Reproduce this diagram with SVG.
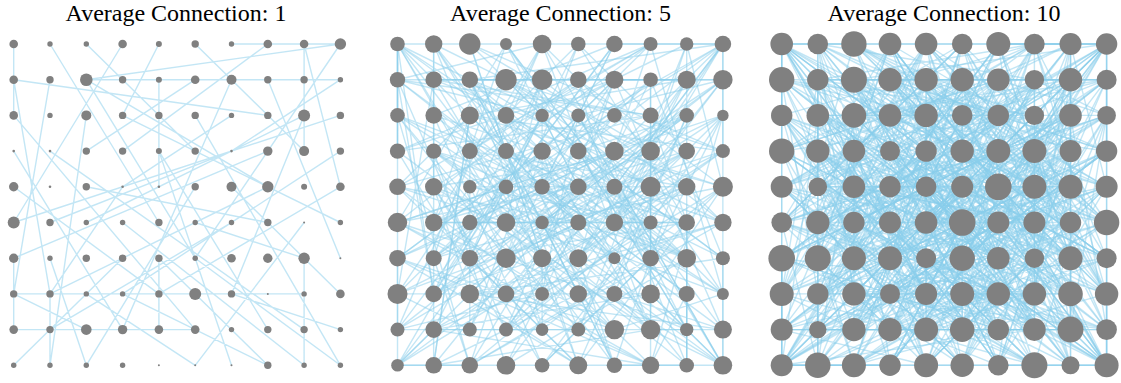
<svg xmlns="http://www.w3.org/2000/svg" xmlns:xlink="http://www.w3.org/1999/xlink" width="1121" height="383" viewBox="0 0 1121 383">
<style>
.t{font-family:"Liberation Serif","Times New Roman",serif;font-size:24px;fill:#000;text-anchor:middle}
.e{fill:none;stroke:#87CEEB;stroke-width:1.4;stroke-opacity:0.5}
.n circle{fill:#808080}
</style>
<defs>
<path id="eA" vector-effect="non-scaling-stroke" d="M0 0L0 2M6 0L9 0M9 0L2 1M2 1L9 1M2 1L7 4M2 1L5 6M3 0L0 5M1 0L4 5M5 0L8 3M9 0L5 6M7 0L3 3M0 1L7 2M0 1L1 7M8 0L9 4M8 0L8 3M4 1L4 4M1 1L0 7M6 1L3 8M7 1L9 6M3 2L9 5M8 2L6 7M8 2L2 5M2 2L1 9M5 2L9 9M0 2L5 8M1 3L8 8M7 3L0 6M4 3L6 9M9 3L3 7M2 4L7 5M0 4L4 7M6 4L9 7M5 4L2 9M7 4L1 7M0 5L9 2M3 5L8 9M1 5L6 3M5 5L8 6M8 6L8 9M4 6L7 9M0 7L2 8M1 7L3 4M2 7L5 9M6 7L9 8M0 8L5 8M1 8L6 5M4 8L4 6M5 7L8 7M0 8L0 6M0 9L3 6M1 9L1 7M7 9L3 7M9 9L5 6M8 9L8 7M2 9L1 6M0 7L7 7M4 7L9 4M3 8L0 3M9 1L6 3M5 1L2 3M4 0L3 2M2 0L5 3M7 8L4 3M6 2L3 4M8 5L5 9"/>
<path id="eB" vector-effect="non-scaling-stroke" d="M0 0L3 4M1 0L5 2M2 0L7 3M3 0L9 8M4 0L1 5M5 0L2 8M6 0L4 4M7 0L0 3M8 0L6 5M9 0L9 3M0 1L4 2M1 1L8 1M2 1L6 9M3 1L0 8M4 1L9 5M5 1L7 6M6 1L1 4M7 1L3 5M8 1L2 7M9 1L5 4M0 2L8 6M1 2L4 9M2 2L9 4M3 2L6 6M4 2L0 9M5 2L8 8M6 2L2 6M7 2L1 1M8 2L4 5M9 2L7 9M0 3L6 1M1 3L3 9M2 3L8 4M3 3L5 7M4 3L1 2M5 3L9 6M6 3L0 5M7 3L7 8M8 3L3 6M9 3L2 2M0 4L5 5M1 4L9 9M2 4L4 8M3 4L6 0M4 4L8 7M5 4L1 9M6 4L3 1M7 4L9 7M8 4L0 7M9 4L5 8M0 5L7 9M1 5L2 2M2 5L8 5M3 5L4 1M4 5L6 8M5 5L0 1M6 5L9 0M7 5L3 8M8 5L1 3M9 5L6 6M0 6L4 3M1 6L7 1M2 6L5 9M3 6L9 2M4 6L2 0M5 6L8 1M6 6L1 8M7 6L4 9M8 6L0 0M9 6L3 3"/>
<path id="eC" vector-effect="non-scaling-stroke" d="M0 0L0 9M9 0L9 9M0 9L9 9M0 0L9 0M1 0L1 4M8 5L8 9M0 0L1 1M9 9L8 8M0 9L1 8M9 0L8 1M0 0L2 1M9 9L7 8"/>
</defs>
<text class="t" x="176" y="21">Average Connection: 1</text>
<text class="t" x="560.5" y="21">Average Connection: 5</text>
<text class="t" x="944" y="21">Average Connection: 10</text>
<g id="connectors">
<g id="edges1" class="e" transform="translate(13.7,44) scale(36.3,35.7)">
<use href="#eA"/>
</g>
<g id="edges2" class="e" transform="translate(397.5,44) scale(36.15,35.7)">
<use href="#eA"/>
<use href="#eA" transform="matrix(0,-1,1,0,0,9)"/>
<use href="#eB"/>
<use href="#eB" transform="matrix(-1,0,0,1,9,0)"/>
<use href="#eB" transform="matrix(1,0,0,-1,0,9)"/>
<use href="#eC"/>
</g>
<g id="edges3" class="e" transform="translate(781.7,44) scale(36.1,35.7)">
<use href="#eA"/>
<use href="#eA" transform="matrix(0,1,1,0,0,0)"/>
<use href="#eA" transform="matrix(-1,0,0,-1,9,9)"/>
<use href="#eB"/>
<use href="#eB" transform="matrix(-1,0,0,1,9,0)"/>
<use href="#eB" transform="matrix(1,0,0,-1,0,9)"/>
<use href="#eB" transform="matrix(-1,0,0,-1,9,9)"/>
<use href="#eB" transform="matrix(0,1,1,0,0,0)"/>
<use href="#eB" transform="matrix(0,-1,-1,0,9,9)"/>
<use href="#eB" transform="matrix(0,1,-1,0,9,0)"/>
<use href="#eC"/>
<use href="#eC" transform="matrix(0,1,1,0,0,0)"/>
</g>
</g>
<g id="nodes1" class="n">
<g id="a0-0"><circle cx="13.7" cy="44" r="4.3"/></g><g id="a0-1"><circle cx="50" cy="44" r="2.7"/></g><g id="a0-2"><circle cx="86.3" cy="44" r="2.7"/></g><g id="a0-3"><circle cx="122.6" cy="44" r="4.3"/></g><g id="a0-4"><circle cx="158.9" cy="44" r="3"/></g><g id="a0-5"><circle cx="195.2" cy="44" r="3.7"/></g><g id="a0-6"><circle cx="231.5" cy="44" r="2.7"/></g><g id="a0-7"><circle cx="267.8" cy="44" r="4.3"/></g><g id="a0-8"><circle cx="304.1" cy="44" r="4.3"/></g><g id="a0-9"><circle cx="340.4" cy="44" r="5.7"/></g>
<g id="a1-0"><circle cx="13.7" cy="79.7" r="4.3"/></g><g id="a1-1"><circle cx="50" cy="79.7" r="3.7"/></g><g id="a1-2"><circle cx="86.3" cy="79.7" r="6.3"/></g><g id="a1-3"><circle cx="122.6" cy="79.7" r="3.7"/></g><g id="a1-4"><circle cx="158.9" cy="79.7" r="3"/></g><g id="a1-5"><circle cx="195.2" cy="79.7" r="4.3"/></g><g id="a1-6"><circle cx="231.5" cy="79.7" r="5"/></g><g id="a1-7"><circle cx="267.8" cy="79.7" r="3.7"/></g><g id="a1-8"><circle cx="304.1" cy="79.7" r="3.7"/></g><g id="a1-9"><circle cx="340.4" cy="79.7" r="2.7"/></g>
<g id="a2-0"><circle cx="13.7" cy="115.4" r="4.3"/></g><g id="a2-1"><circle cx="50" cy="115.4" r="2.7"/></g><g id="a2-2"><circle cx="86.3" cy="115.4" r="5"/></g><g id="a2-3"><circle cx="122.6" cy="115.4" r="3.7"/></g><g id="a2-4"><circle cx="158.9" cy="115.4" r="3.7"/></g><g id="a2-5"><circle cx="195.2" cy="115.4" r="3.7"/></g><g id="a2-6"><circle cx="231.5" cy="115.4" r="2.7"/></g><g id="a2-7"><circle cx="267.8" cy="115.4" r="3.7"/></g><g id="a2-8"><circle cx="304.1" cy="115.4" r="6"/></g><g id="a2-9"><circle cx="340.4" cy="115.4" r="3.7"/></g>
<g id="a3-0"><circle cx="13.7" cy="151.1" r="1.3"/></g><g id="a3-1"><circle cx="50" cy="151.1" r="1.3"/></g><g id="a3-2"><circle cx="86.3" cy="151.1" r="3.7"/></g><g id="a3-3"><circle cx="122.6" cy="151.1" r="3.7"/></g><g id="a3-4"><circle cx="158.9" cy="151.1" r="3"/></g><g id="a3-5"><circle cx="195.2" cy="151.1" r="3.7"/></g><g id="a3-6"><circle cx="231.5" cy="151.1" r="1.3"/></g><g id="a3-7"><circle cx="267.8" cy="151.1" r="4.7"/></g><g id="a3-8"><circle cx="304.1" cy="151.1" r="5"/></g><g id="a3-9"><circle cx="340.4" cy="151.1" r="3.7"/></g>
<g id="a4-0"><circle cx="13.7" cy="186.8" r="4.7"/></g><g id="a4-1"><circle cx="50" cy="186.8" r="1.3"/></g><g id="a4-2"><circle cx="86.3" cy="186.8" r="3.7"/></g><g id="a4-3"><circle cx="122.6" cy="186.8" r="1.3"/></g><g id="a4-4"><circle cx="158.9" cy="186.8" r="1.3"/></g><g id="a4-5"><circle cx="195.2" cy="186.8" r="3.7"/></g><g id="a4-6"><circle cx="231.5" cy="186.8" r="5"/></g><g id="a4-7"><circle cx="267.8" cy="186.8" r="5.7"/></g><g id="a4-8"><circle cx="304.1" cy="186.8" r="3"/></g><g id="a4-9"><circle cx="340.4" cy="186.8" r="4.3"/></g>
<g id="a5-0"><circle cx="13.7" cy="222.5" r="6"/></g><g id="a5-1"><circle cx="50" cy="222.5" r="3.7"/></g><g id="a5-2"><circle cx="86.3" cy="222.5" r="2.7"/></g><g id="a5-3"><circle cx="122.6" cy="222.5" r="2.7"/></g><g id="a5-4"><circle cx="158.9" cy="222.5" r="3.7"/></g><g id="a5-5"><circle cx="195.2" cy="222.5" r="2.7"/></g><g id="a5-6"><circle cx="231.5" cy="222.5" r="2.7"/></g><g id="a5-7"><circle cx="267.8" cy="222.5" r="3.7"/></g><g id="a5-8"><circle cx="304.1" cy="222.5" r="1"/></g><g id="a5-9"><circle cx="340.4" cy="222.5" r="2.7"/></g>
<g id="a6-0"><circle cx="13.7" cy="258.2" r="4.7"/></g><g id="a6-1"><circle cx="50" cy="258.2" r="2.7"/></g><g id="a6-2"><circle cx="86.3" cy="258.2" r="3.7"/></g><g id="a6-3"><circle cx="122.6" cy="258.2" r="3.7"/></g><g id="a6-4"><circle cx="158.9" cy="258.2" r="3.7"/></g><g id="a6-5"><circle cx="195.2" cy="258.2" r="2.7"/></g><g id="a6-6"><circle cx="231.5" cy="258.2" r="4.3"/></g><g id="a6-7"><circle cx="267.8" cy="258.2" r="4.7"/></g><g id="a6-8"><circle cx="304.1" cy="258.2" r="5.7"/></g><g id="a6-9"><circle cx="340.4" cy="258.2" r="1"/></g>
<g id="a7-0"><circle cx="13.7" cy="293.9" r="3.7"/></g><g id="a7-1"><circle cx="50" cy="293.9" r="3.7"/></g><g id="a7-2"><circle cx="86.3" cy="293.9" r="2.7"/></g><g id="a7-3"><circle cx="122.6" cy="293.9" r="2.7"/></g><g id="a7-4"><circle cx="158.9" cy="293.9" r="3.7"/></g><g id="a7-5"><circle cx="195.2" cy="293.9" r="6"/></g><g id="a7-6"><circle cx="231.5" cy="293.9" r="3.7"/></g><g id="a7-7"><circle cx="267.8" cy="293.9" r="1"/></g><g id="a7-8"><circle cx="304.1" cy="293.9" r="2.7"/></g><g id="a7-9"><circle cx="340.4" cy="293.9" r="4.3"/></g>
<g id="a8-0"><circle cx="13.7" cy="329.6" r="4.3"/></g><g id="a8-1"><circle cx="50" cy="329.6" r="3.7"/></g><g id="a8-2"><circle cx="86.3" cy="329.6" r="5.3"/></g><g id="a8-3"><circle cx="122.6" cy="329.6" r="4.7"/></g><g id="a8-4"><circle cx="158.9" cy="329.6" r="4.3"/></g><g id="a8-5"><circle cx="195.2" cy="329.6" r="4.3"/></g><g id="a8-6"><circle cx="231.5" cy="329.6" r="2.7"/></g><g id="a8-7"><circle cx="267.8" cy="329.6" r="3.7"/></g><g id="a8-8"><circle cx="304.1" cy="329.6" r="3.7"/></g><g id="a8-9"><circle cx="340.4" cy="329.6" r="2.7"/></g>
<g id="a9-0"><circle cx="13.7" cy="365.3" r="2.7"/></g><g id="a9-1"><circle cx="50" cy="365.3" r="2.7"/></g><g id="a9-2"><circle cx="86.3" cy="365.3" r="2.7"/></g><g id="a9-3"><circle cx="122.6" cy="365.3" r="2.7"/></g><g id="a9-4"><circle cx="158.9" cy="365.3" r="1"/></g><g id="a9-5"><circle cx="195.2" cy="365.3" r="1"/></g><g id="a9-6"><circle cx="231.5" cy="365.3" r="1"/></g><g id="a9-7"><circle cx="267.8" cy="365.3" r="3.7"/></g><g id="a9-8"><circle cx="304.1" cy="365.3" r="2.7"/></g><g id="a9-9"><circle cx="340.4" cy="365.3" r="2.7"/></g>
</g>
<g id="nodes2" class="n">
<g id="b0-0"><circle cx="397.5" cy="44" r="7.3"/></g><g id="b0-1"><circle cx="433.7" cy="44" r="8.7"/></g><g id="b0-2"><circle cx="469.8" cy="44" r="10.7"/></g><g id="b0-3"><circle cx="506" cy="44" r="6"/></g><g id="b0-4"><circle cx="542.1" cy="44" r="9.3"/></g><g id="b0-5"><circle cx="578.3" cy="44" r="7.3"/></g><g id="b0-6"><circle cx="614.4" cy="44" r="8.3"/></g><g id="b0-7"><circle cx="650.6" cy="44" r="7"/></g><g id="b0-8"><circle cx="686.7" cy="44" r="6.7"/></g><g id="b0-9"><circle cx="722.9" cy="44" r="8.3"/></g>
<g id="b1-0"><circle cx="397.5" cy="79.7" r="7.7"/></g><g id="b1-1"><circle cx="433.7" cy="79.7" r="8.3"/></g><g id="b1-2"><circle cx="469.8" cy="79.7" r="8.3"/></g><g id="b1-3"><circle cx="506" cy="79.7" r="10.7"/></g><g id="b1-4"><circle cx="542.1" cy="79.7" r="10.3"/></g><g id="b1-5"><circle cx="578.3" cy="79.7" r="8.3"/></g><g id="b1-6"><circle cx="614.4" cy="79.7" r="9"/></g><g id="b1-7"><circle cx="650.6" cy="79.7" r="7.3"/></g><g id="b1-8"><circle cx="686.7" cy="79.7" r="9"/></g><g id="b1-9"><circle cx="722.9" cy="79.7" r="9.7"/></g>
<g id="b2-0"><circle cx="397.5" cy="115.4" r="7.3"/></g><g id="b2-1"><circle cx="433.7" cy="115.4" r="8.3"/></g><g id="b2-2"><circle cx="469.8" cy="115.4" r="9"/></g><g id="b2-3"><circle cx="506" cy="115.4" r="8.3"/></g><g id="b2-4"><circle cx="542.1" cy="115.4" r="6.7"/></g><g id="b2-5"><circle cx="578.3" cy="115.4" r="7"/></g><g id="b2-6"><circle cx="614.4" cy="115.4" r="7.3"/></g><g id="b2-7"><circle cx="650.6" cy="115.4" r="8"/></g><g id="b2-8"><circle cx="686.7" cy="115.4" r="7.3"/></g><g id="b2-9"><circle cx="722.9" cy="115.4" r="5.7"/></g>
<g id="b3-0"><circle cx="397.5" cy="151.1" r="7.7"/></g><g id="b3-1"><circle cx="433.7" cy="151.1" r="7.7"/></g><g id="b3-2"><circle cx="469.8" cy="151.1" r="8"/></g><g id="b3-3"><circle cx="506" cy="151.1" r="8"/></g><g id="b3-4"><circle cx="542.1" cy="151.1" r="8.7"/></g><g id="b3-5"><circle cx="578.3" cy="151.1" r="8.3"/></g><g id="b3-6"><circle cx="614.4" cy="151.1" r="9.3"/></g><g id="b3-7"><circle cx="650.6" cy="151.1" r="9.3"/></g><g id="b3-8"><circle cx="686.7" cy="151.1" r="8.3"/></g><g id="b3-9"><circle cx="722.9" cy="151.1" r="7"/></g>
<g id="b4-0"><circle cx="397.5" cy="186.8" r="8.3"/></g><g id="b4-1"><circle cx="433.7" cy="186.8" r="8.7"/></g><g id="b4-2"><circle cx="469.8" cy="186.8" r="6.7"/></g><g id="b4-3"><circle cx="506" cy="186.8" r="7.3"/></g><g id="b4-4"><circle cx="542.1" cy="186.8" r="7.7"/></g><g id="b4-5"><circle cx="578.3" cy="186.8" r="8.3"/></g><g id="b4-6"><circle cx="614.4" cy="186.8" r="8"/></g><g id="b4-7"><circle cx="650.6" cy="186.8" r="10"/></g><g id="b4-8"><circle cx="686.7" cy="186.8" r="8.7"/></g><g id="b4-9"><circle cx="722.9" cy="186.8" r="10"/></g>
<g id="b5-0"><circle cx="397.5" cy="222.5" r="9.7"/></g><g id="b5-1"><circle cx="433.7" cy="222.5" r="8.7"/></g><g id="b5-2"><circle cx="469.8" cy="222.5" r="7.7"/></g><g id="b5-3"><circle cx="506" cy="222.5" r="9.3"/></g><g id="b5-4"><circle cx="542.1" cy="222.5" r="6.7"/></g><g id="b5-5"><circle cx="578.3" cy="222.5" r="8"/></g><g id="b5-6"><circle cx="614.4" cy="222.5" r="8.7"/></g><g id="b5-7"><circle cx="650.6" cy="222.5" r="7"/></g><g id="b5-8"><circle cx="686.7" cy="222.5" r="8.3"/></g><g id="b5-9"><circle cx="722.9" cy="222.5" r="8.7"/></g>
<g id="b6-0"><circle cx="397.5" cy="258.2" r="8.3"/></g><g id="b6-1"><circle cx="433.7" cy="258.2" r="8"/></g><g id="b6-2"><circle cx="469.8" cy="258.2" r="8.3"/></g><g id="b6-3"><circle cx="506" cy="258.2" r="9.7"/></g><g id="b6-4"><circle cx="542.1" cy="258.2" r="9"/></g><g id="b6-5"><circle cx="578.3" cy="258.2" r="9"/></g><g id="b6-6"><circle cx="614.4" cy="258.2" r="6"/></g><g id="b6-7"><circle cx="650.6" cy="258.2" r="8.3"/></g><g id="b6-8"><circle cx="686.7" cy="258.2" r="9.3"/></g><g id="b6-9"><circle cx="722.9" cy="258.2" r="7"/></g>
<g id="b7-0"><circle cx="397.5" cy="293.9" r="10"/></g><g id="b7-1"><circle cx="433.7" cy="293.9" r="8.3"/></g><g id="b7-2"><circle cx="469.8" cy="293.9" r="9.3"/></g><g id="b7-3"><circle cx="506" cy="293.9" r="8.3"/></g><g id="b7-4"><circle cx="542.1" cy="293.9" r="7"/></g><g id="b7-5"><circle cx="578.3" cy="293.9" r="8.7"/></g><g id="b7-6"><circle cx="614.4" cy="293.9" r="8"/></g><g id="b7-7"><circle cx="650.6" cy="293.9" r="9.3"/></g><g id="b7-8"><circle cx="686.7" cy="293.9" r="8"/></g><g id="b7-9"><circle cx="722.9" cy="293.9" r="6"/></g>
<g id="b8-0"><circle cx="397.5" cy="329.6" r="7"/></g><g id="b8-1"><circle cx="433.7" cy="329.6" r="8.3"/></g><g id="b8-2"><circle cx="469.8" cy="329.6" r="7"/></g><g id="b8-3"><circle cx="506" cy="329.6" r="7"/></g><g id="b8-4"><circle cx="542.1" cy="329.6" r="6.3"/></g><g id="b8-5"><circle cx="578.3" cy="329.6" r="7"/></g><g id="b8-6"><circle cx="614.4" cy="329.6" r="9.7"/></g><g id="b8-7"><circle cx="650.6" cy="329.6" r="9.7"/></g><g id="b8-8"><circle cx="686.7" cy="329.6" r="6.7"/></g><g id="b8-9"><circle cx="722.9" cy="329.6" r="9"/></g>
<g id="b9-0"><circle cx="397.5" cy="365.3" r="6.3"/></g><g id="b9-1"><circle cx="433.7" cy="365.3" r="8.3"/></g><g id="b9-2"><circle cx="469.8" cy="365.3" r="8.3"/></g><g id="b9-3"><circle cx="506" cy="365.3" r="9.3"/></g><g id="b9-4"><circle cx="542.1" cy="365.3" r="7.3"/></g><g id="b9-5"><circle cx="578.3" cy="365.3" r="9"/></g><g id="b9-6"><circle cx="614.4" cy="365.3" r="7.7"/></g><g id="b9-7"><circle cx="650.6" cy="365.3" r="8.7"/></g><g id="b9-8"><circle cx="686.7" cy="365.3" r="7.3"/></g><g id="b9-9"><circle cx="722.9" cy="365.3" r="9.3"/></g>
</g>
<g id="nodes3" class="n">
<g id="c0-0"><circle cx="781.7" cy="44" r="11.3"/></g><g id="c0-1"><circle cx="817.8" cy="44" r="10.3"/></g><g id="c0-2"><circle cx="853.9" cy="44" r="12.7"/></g><g id="c0-3"><circle cx="890" cy="44" r="11.3"/></g><g id="c0-4"><circle cx="926.1" cy="44" r="11.3"/></g><g id="c0-5"><circle cx="962.2" cy="44" r="10.3"/></g><g id="c0-6"><circle cx="998.3" cy="44" r="12"/></g><g id="c0-7"><circle cx="1034.4" cy="44" r="10.3"/></g><g id="c0-8"><circle cx="1070.5" cy="44" r="11"/></g><g id="c0-9"><circle cx="1106.6" cy="44" r="10.7"/></g>
<g id="c1-0"><circle cx="781.7" cy="79.7" r="12.7"/></g><g id="c1-1"><circle cx="817.8" cy="79.7" r="10.7"/></g><g id="c1-2"><circle cx="853.9" cy="79.7" r="13"/></g><g id="c1-3"><circle cx="890" cy="79.7" r="11.7"/></g><g id="c1-4"><circle cx="926.1" cy="79.7" r="11.7"/></g><g id="c1-5"><circle cx="962.2" cy="79.7" r="11.7"/></g><g id="c1-6"><circle cx="998.3" cy="79.7" r="11.3"/></g><g id="c1-7"><circle cx="1034.4" cy="79.7" r="9.7"/></g><g id="c1-8"><circle cx="1070.5" cy="79.7" r="11.7"/></g><g id="c1-9"><circle cx="1106.6" cy="79.7" r="10"/></g>
<g id="c2-0"><circle cx="781.7" cy="115.4" r="10.7"/></g><g id="c2-1"><circle cx="817.8" cy="115.4" r="11.3"/></g><g id="c2-2"><circle cx="853.9" cy="115.4" r="12.3"/></g><g id="c2-3"><circle cx="890" cy="115.4" r="11.3"/></g><g id="c2-4"><circle cx="926.1" cy="115.4" r="11.7"/></g><g id="c2-5"><circle cx="962.2" cy="115.4" r="10.3"/></g><g id="c2-6"><circle cx="998.3" cy="115.4" r="10.7"/></g><g id="c2-7"><circle cx="1034.4" cy="115.4" r="9.7"/></g><g id="c2-8"><circle cx="1070.5" cy="115.4" r="11.3"/></g><g id="c2-9"><circle cx="1106.6" cy="115.4" r="9.3"/></g>
<g id="c3-0"><circle cx="781.7" cy="151.1" r="12.7"/></g><g id="c3-1"><circle cx="817.8" cy="151.1" r="11.7"/></g><g id="c3-2"><circle cx="853.9" cy="151.1" r="11.3"/></g><g id="c3-3"><circle cx="890" cy="151.1" r="10"/></g><g id="c3-4"><circle cx="926.1" cy="151.1" r="10.7"/></g><g id="c3-5"><circle cx="962.2" cy="151.1" r="11.7"/></g><g id="c3-6"><circle cx="998.3" cy="151.1" r="12"/></g><g id="c3-7"><circle cx="1034.4" cy="151.1" r="12"/></g><g id="c3-8"><circle cx="1070.5" cy="151.1" r="11"/></g><g id="c3-9"><circle cx="1106.6" cy="151.1" r="10.7"/></g>
<g id="c4-0"><circle cx="781.7" cy="186.8" r="11"/></g><g id="c4-1"><circle cx="817.8" cy="186.8" r="9.3"/></g><g id="c4-2"><circle cx="853.9" cy="186.8" r="11.3"/></g><g id="c4-3"><circle cx="890" cy="186.8" r="10.7"/></g><g id="c4-4"><circle cx="926.1" cy="186.8" r="10.3"/></g><g id="c4-5"><circle cx="962.2" cy="186.8" r="11"/></g><g id="c4-6"><circle cx="998.3" cy="186.8" r="13.3"/></g><g id="c4-7"><circle cx="1034.4" cy="186.8" r="12"/></g><g id="c4-8"><circle cx="1070.5" cy="186.8" r="12"/></g><g id="c4-9"><circle cx="1106.6" cy="186.8" r="11"/></g>
<g id="c5-0"><circle cx="781.7" cy="222.5" r="10.3"/></g><g id="c5-1"><circle cx="817.8" cy="222.5" r="11.7"/></g><g id="c5-2"><circle cx="853.9" cy="222.5" r="10.7"/></g><g id="c5-3"><circle cx="890" cy="222.5" r="11"/></g><g id="c5-4"><circle cx="926.1" cy="222.5" r="11.3"/></g><g id="c5-5"><circle cx="962.2" cy="222.5" r="13.3"/></g><g id="c5-6"><circle cx="998.3" cy="222.5" r="11"/></g><g id="c5-7"><circle cx="1034.4" cy="222.5" r="11"/></g><g id="c5-8"><circle cx="1070.5" cy="222.5" r="10.7"/></g><g id="c5-9"><circle cx="1106.6" cy="222.5" r="12.7"/></g>
<g id="c6-0"><circle cx="781.7" cy="258.2" r="13.3"/></g><g id="c6-1"><circle cx="817.8" cy="258.2" r="13"/></g><g id="c6-2"><circle cx="853.9" cy="258.2" r="12"/></g><g id="c6-3"><circle cx="890" cy="258.2" r="12"/></g><g id="c6-4"><circle cx="926.1" cy="258.2" r="10"/></g><g id="c6-5"><circle cx="962.2" cy="258.2" r="12.7"/></g><g id="c6-6"><circle cx="998.3" cy="258.2" r="11.3"/></g><g id="c6-7"><circle cx="1034.4" cy="258.2" r="9.7"/></g><g id="c6-8"><circle cx="1070.5" cy="258.2" r="12"/></g><g id="c6-9"><circle cx="1106.6" cy="258.2" r="10"/></g>
<g id="c7-0"><circle cx="781.7" cy="293.9" r="12"/></g><g id="c7-1"><circle cx="817.8" cy="293.9" r="10.7"/></g><g id="c7-2"><circle cx="853.9" cy="293.9" r="11.7"/></g><g id="c7-3"><circle cx="890" cy="293.9" r="10"/></g><g id="c7-4"><circle cx="926.1" cy="293.9" r="11"/></g><g id="c7-5"><circle cx="962.2" cy="293.9" r="12"/></g><g id="c7-6"><circle cx="998.3" cy="293.9" r="11.7"/></g><g id="c7-7"><circle cx="1034.4" cy="293.9" r="11.7"/></g><g id="c7-8"><circle cx="1070.5" cy="293.9" r="12.3"/></g><g id="c7-9"><circle cx="1106.6" cy="293.9" r="11.7"/></g>
<g id="c8-0"><circle cx="781.7" cy="329.6" r="11"/></g><g id="c8-1"><circle cx="817.8" cy="329.6" r="8.7"/></g><g id="c8-2"><circle cx="853.9" cy="329.6" r="11.7"/></g><g id="c8-3"><circle cx="890" cy="329.6" r="11.7"/></g><g id="c8-4"><circle cx="926.1" cy="329.6" r="12"/></g><g id="c8-5"><circle cx="962.2" cy="329.6" r="12.3"/></g><g id="c8-6"><circle cx="998.3" cy="329.6" r="10.7"/></g><g id="c8-7"><circle cx="1034.4" cy="329.6" r="11.3"/></g><g id="c8-8"><circle cx="1070.5" cy="329.6" r="13"/></g><g id="c8-9"><circle cx="1106.6" cy="329.6" r="10.3"/></g>
<g id="c9-0"><circle cx="781.7" cy="365.3" r="11"/></g><g id="c9-1"><circle cx="817.8" cy="365.3" r="12.7"/></g><g id="c9-2"><circle cx="853.9" cy="365.3" r="12"/></g><g id="c9-3"><circle cx="890" cy="365.3" r="10.7"/></g><g id="c9-4"><circle cx="926.1" cy="365.3" r="12"/></g><g id="c9-5"><circle cx="962.2" cy="365.3" r="11.7"/></g><g id="c9-6"><circle cx="998.3" cy="365.3" r="10.3"/></g><g id="c9-7"><circle cx="1034.4" cy="365.3" r="13"/></g><g id="c9-8"><circle cx="1070.5" cy="365.3" r="9"/></g><g id="c9-9"><circle cx="1106.6" cy="365.3" r="12"/></g>
</g>
</svg>
